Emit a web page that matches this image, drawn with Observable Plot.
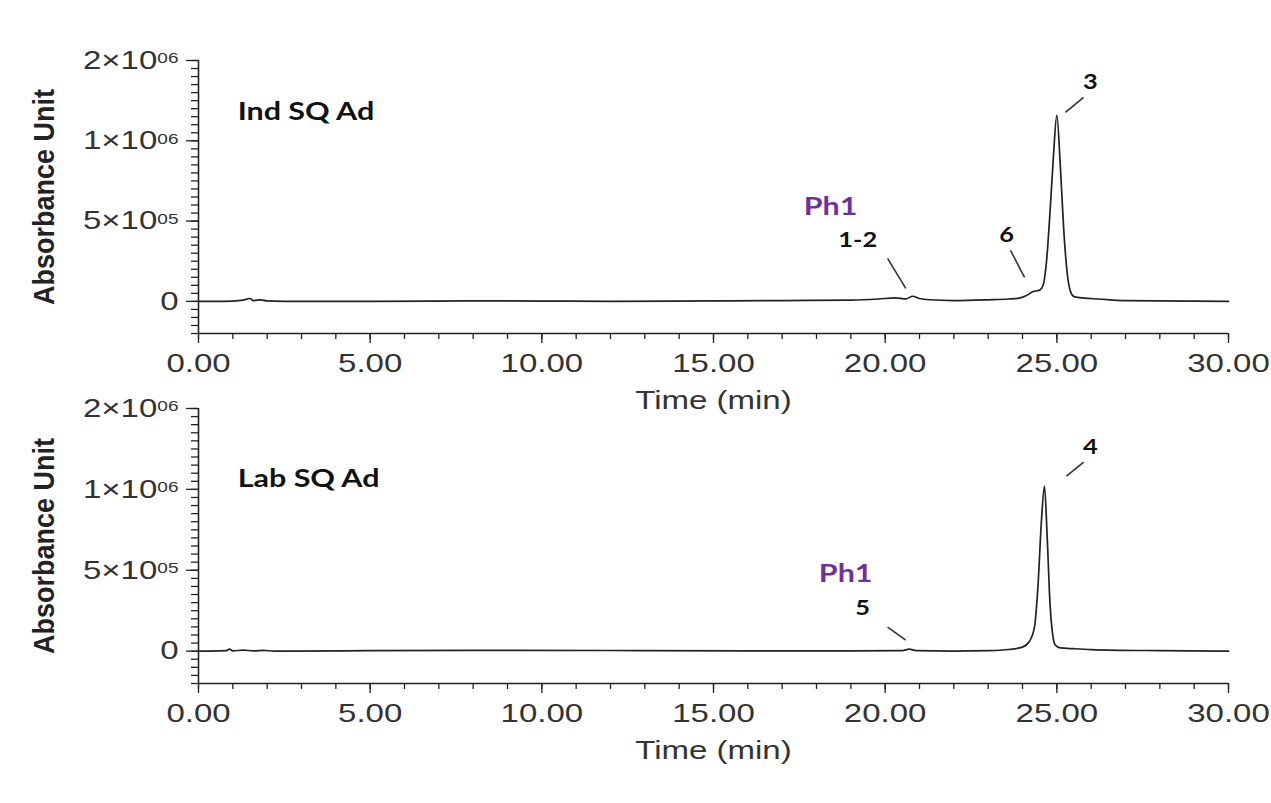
<!DOCTYPE html>
<html><head><meta charset="utf-8">
<script src="https://cdn.jsdelivr.net/npm/d3@7"></script>
<script src="https://cdn.jsdelivr.net/npm/@observablehq/plot@0.6"></script>
<style>
body{margin:0;background:#fff;}
#wrap{position:relative;width:1271px;height:803px;overflow:hidden;}
#wrap > div{position:absolute;left:0;top:0;}
</style></head><body><div id="wrap"><div id="p1"></div><div id="p2"></div></div>
<script>
// ---- data ----
const topTime  = [0,0.5,1.0,1.3,1.5,1.6,1.8,2.0,2.5,5,8,10,12,15,17,19,19.8,20.3,20.6,20.8,21.0,21.3,22,23,23.6,23.9,24.1,24.3,24.5,24.6,24.7,24.8,24.9,25.0,25.1,25.2,25.3,25.4,25.5,25.8,26.2,27,30];
const topValue = [0,0,2000,8000,18000,5000,10000,3000,0,0,3000,2000,0,3000,5000,8000,15000,22000,15000,32000,18000,10000,5000,10000,15000,20000,35000,60000,70000,100000,250000,550000,900000,1160000,850000,450000,180000,60000,30000,20000,15000,5000,0];
const bottomTime  = [0,0.8,0.9,1.0,1.3,1.6,1.9,2.2,5,8,12,16,19,20.5,20.7,20.9,22,23,23.6,24.0,24.2,24.35,24.45,24.55,24.64,24.72,24.8,24.88,24.95,25.1,25.5,26,28,30];
const bottomValue = [0,3000,12000,2000,6000,2000,5000,0,3000,5000,4000,2000,2000,3000,12000,3000,0,3000,10000,25000,60000,150000,400000,800000,1020000,700000,300000,100000,40000,20000,15000,10000,3000,0];

const yTickValues = [0, 5e5, 1e6, 1.5e6];
const yTickLabels = ["0", "5×10^05", "1×10^06", "2×10^06"];
const xTickValues = [0, 5, 10, 15, 20, 25, 30];
const xTickLabels = ["0.00", "5.00", "10.00", "15.00", "20.00", "25.00", "30.00"];

const panelNames = ["Ind SQ Ad", "Lab SQ Ad"];
const panelNameT = [1.14, 1.14];
const panelNameV = [1.18e6, 1.06e6];

const topPeakLabels = ["1-2", "6", "3"];
const topPeakT = [19.2, 23.54, 25.98];
const topPeakV = [0.38e6, 0.41e6, 1.364e6];
const topLeaderT1 = [20.07, 23.65, 25.78];
const topLeaderV1 = [0.268e6, 0.318e6, 1.27e6];
const topLeaderT2 = [20.6, 24.06, 25.25];
const topLeaderV2 = [0.081e6, 0.149e6, 1.177e6];
const topPhT = 18.41, topPhV = 0.585e6;

const botPeakLabels = ["5", "4"];
const botPeakT = [19.34, 25.98];
const botPeakV = [0.266e6, 1.26e6];
const botLeaderT1 = [20.07, 25.78];
const botLeaderV1 = [0.148e6, 1.168e6];
const botLeaderT2 = [20.6, 25.28];
const botLeaderV2 = [0.068e6, 1.082e6];
const botPhT = 18.85, botPhV = 0.476e6;

const phLabel = "Ph1";
const yTitle = "Absorbance Unit";
const xTitle = "Time (min)";

// ---- drawing ----
const annFont = "Lato, 'Open Sans', sans-serif";
const axFont = "'Liberation Sans', Arial, sans-serif";
const STRETCH = 1.27;

function finish(svg) {
  const root = d3.select(svg);
  // superscript exponents in tick labels
  root.selectAll("text").each(function() {
    const s = this.textContent;
    if (s && s.includes("^")) {
      const [base, exp] = s.split("^");
      this.textContent = base;
      d3.select(this).append("tspan").attr("dy", "-0.36em").attr("font-size", 15).text(exp);
    }
  });
  // horizontal stretch of all text (the reference is stretched sideways)
  root.selectAll("text").each(function() {
    if (!this.textContent) return;
    const tr = this.getAttribute("transform");
    if (!tr) return;
    const rotated = /rotate/.test(tr);
    this.setAttribute("transform", tr + (rotated ? " scale(1,1.12)" : ` scale(${STRETCH},1)`));
  });
  return svg;
}

function panel(time, value, idx, peakLabels, peakT, peakV, l1t, l1v, l2t, l2v, phT, phV, height, marginTop, marginBottom) {
  const series = time.map((t, i) => ({t, v: value[i]}));
  const peaks = peakLabels.map((s, i) => ({s, t: peakT[i], v: peakV[i]}));
  const leaders = l1t.map((t, i) => ({t1: t, v1: l1v[i], t2: l2t[i], v2: l2v[i]}));
  const svg = Plot.plot({
    width: 1271, height, marginLeft: 198, marginRight: 43, marginTop, marginBottom,
    x: {domain: [0, 30]},
    y: {domain: [-2e5, 1.5e6]},
    style: {background: "transparent", overflow: "visible", color: "#222", fontFamily: axFont},
    marks: [
      Plot.ruleX([0], {stroke: "#222", strokeWidth: 1.6}),
      Plot.ruleY([-2e5], {stroke: "#222", strokeWidth: 1.6}),
      Plot.axisY(d3.range(-2e5, 1.5e6 + 1, 5e4), {tickSize: 7, tickFormat: () => "", label: null, strokeWidth: 1.3}),
      Plot.axisY(yTickValues, {tickSize: 12, tickFormat: () => "", label: null, strokeWidth: 1.3}),
      Plot.axisX(d3.range(0, 31, 1), {tickSize: 6, tickFormat: () => "", label: null, strokeWidth: 1.3}),
      Plot.axisX(xTickValues, {tickSize: 10, tickFormat: () => "", label: null, strokeWidth: 1.3}),
      Plot.text(yTickValues, {y: d => d, frameAnchor: "left", dx: -20, textAnchor: "end", lineAnchor: "middle",
        text: (d, i) => yTickLabels[i], fontSize: 26, fill: "#333"}),
      Plot.text(xTickValues, {x: d => d, frameAnchor: "bottom", dy: 30, lineAnchor: "middle",
        text: (d, i) => xTickLabels[i], fontSize: 26, fill: "#333"}),
      Plot.text([yTitle], {frameAnchor: "left", textAnchor: "middle", rotate: -90, dx: -154, fontSize: 27, fontWeight: "bold",
        fontFamily: axFont, fill: "#222"}),
      Plot.text([xTitle], {frameAnchor: "bottom", dy: 67, lineAnchor: "middle", fontSize: 26, fill: "#333"}),
      Plot.line(series, {x: "t", y: "v", curve: "monotone-x", stroke: "#222", strokeWidth: 1.7}),
      Plot.text([panelNames[idx]], {x: panelNameT[idx], y: panelNameV[idx], textAnchor: "start",
        fontSize: 24, fontWeight: "bold", fontFamily: annFont, fill: "#111"}),
      Plot.text([phLabel], {x: phT, y: phV, fontSize: 24, fontWeight: "bold", fontFamily: annFont, fill: "#7030A0"}),
      Plot.text(peaks, {x: "t", y: "v", text: "s", fontSize: 20, fontWeight: "bold", fontFamily: annFont, fill: "#111"}),
      Plot.link(leaders, {x1: "t1", y1: "v1", x2: "t2", y2: "v2", stroke: "#333", strokeWidth: 1.6})
    ]
  });
  return finish(svg);
}

document.getElementById("p1").append(panel(topTime, topValue, 0, topPeakLabels, topPeakT, topPeakV,
  topLeaderT1, topLeaderV1, topLeaderT2, topLeaderV2, topPhT, topPhV, 420, 60, 87));
document.getElementById("p2").append(panel(bottomTime, bottomValue, 1, botPeakLabels, botPeakT, botPeakV,
  botLeaderT1, botLeaderV1, botLeaderT2, botLeaderV2, botPhT, botPhV, 803, 408, 120));
</script>
</body></html>
